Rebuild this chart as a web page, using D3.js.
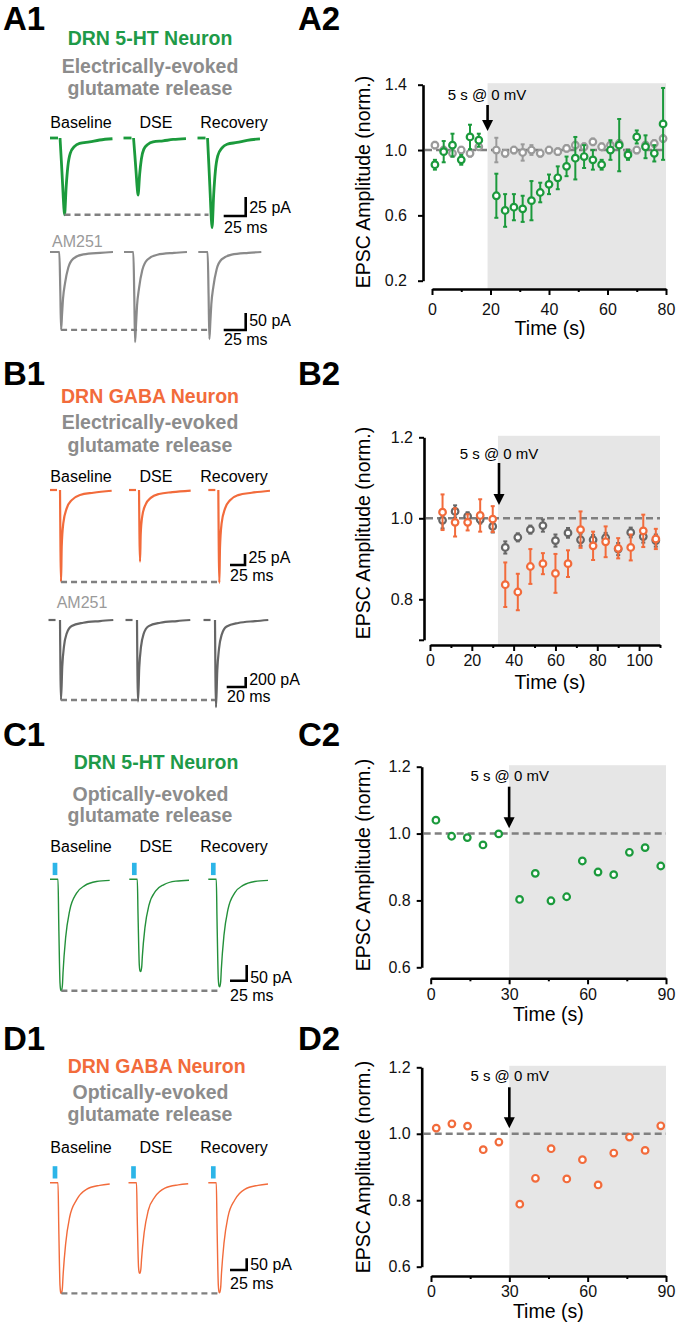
<!DOCTYPE html>
<html><head><meta charset="utf-8">
<script src="https://cdn.jsdelivr.net/npm/d3@7"></script>
<style>
body{margin:0;background:#fff;}
svg{display:block;font-family:"Liberation Sans",Arial,Helvetica,sans-serif;}
</style></head><body>
<svg id="fig" width="677" height="1327"></svg>
<script>
// ================= DATA =================
const phases = ["Baseline", "DSE", "Recovery"];

// EPSC peak amplitudes (pA, inward = negative) for Baseline / DSE / Recovery
const a1Amp   = [-101, -75, -118];
const a1AmAmp = [-229, -265, -256];
const b1Amp   = [-209, -163, -211];
const b1AmAmp = [-1600, -1630, -1745];
const c1Amp   = [-355, -294, -342];
const d1Amp   = [-473, -387, -470];

// EPSC waveform shapes: [ms after onset, fraction of peak]
const a1Shape   = [[0,0],[1.5,0.3],[3.0,0.62],[4.2,0.88],[5.1,1.0],[7.0,0.63],[8.9,0.37],[11.6,0.2],[16.5,0.11],[22.2,0.07],[33.6,0.05],[45,0.026],[59.6,0.01]];
const a1AmShape = [[0,0],[1.1,0.5],[2.0,1.0],[3.1,0.8],[4.2,0.6],[6.5,0.4],[10.2,0.2],[15.9,0.085],[27.3,0.03],[46.3,0.01],[61,0]];
const b1Shape   = [[0,0],[1.7,1.0],[2.8,0.62],[5.5,0.36],[11.1,0.2],[19.5,0.11],[33.3,0.055],[55.5,0.03],[86.1,0.008]];
const b1AmShape = [[0,0],[1.05,1.0],[2.4,0.58],[4.2,0.33],[7.0,0.17],[12.3,0.075],[24.5,0.034],[42.1,0.013],[56.1,0]];
const c1Shape   = [[0,0],[1.05,0.37],[2.1,0.72],[3.0,0.93],[4.2,0.995],[5.1,1.0],[6.6,0.95],[7.5,0.84],[11.5,0.52],[17.5,0.28],[27.6,0.126],[40,0.057],[57.6,0.02],[77.5,0.01]];
const d1Shape   = [[0,0],[1.05,0.37],[2.1,0.72],[3.0,0.93],[4.2,0.995],[5.1,1.0],[6.6,0.95],[7.5,0.85],[11.5,0.55],[17.5,0.31],[27.6,0.157],[42.6,0.06],[62.5,0.024],[77.5,0.012]];
const lightPulseMs = [4, 11];

// A2 — electrically evoked, 5-HT neurons (green) and AM251 (gray)
const a2Time     = [1,4,7,10,13,16,22,25,28,31,34,37,40,43,46,49,52,55,58,61,64,67,70,73,76,79];
const a2Green    = [0.91,0.99,1.03,0.94,1.08,1.06,0.72,0.63,0.65,0.64,0.69,0.74,0.79,0.83,0.90,0.95,0.96,0.94,0.91,1.00,1.03,0.97,1.08,1.02,0.98,1.16];
const a2GreenErr = [0.03,0.065,0.07,0.03,0.075,0.04,0.135,0.10,0.08,0.08,0.12,0.06,0.06,0.07,0.06,0.13,0.07,0.06,0.03,0.06,0.16,0.03,0.04,0.07,0.05,0.22];
const a2Gray     = [1.03,1.00,0.98,1.00,0.98,1.02,1.00,0.98,1.00,0.985,1.00,0.98,1.00,0.99,1.01,1.03,1.02,1.05,1.02,1.03,1.04,0.985,1.00,1.03,1.04,1.07];
const a2GrayErr  = [0.02,0.02,0.02,0.02,0.02,0.02,0.075,0.02,0.02,0.05,0.03,0.02,0.02,0.02,0.02,0.02,0.02,0.02,0.02,0.02,0.02,0.02,0.02,0.02,0.02,0.02];

// B2 — electrically evoked, GABA neurons (orange) and AM251 (dark gray)
const b2Time      = [6,12,18,24,30,36,42,48,54,60,66,72,78,84,90,96,102,108];
const b2Orange    = [1.015,0.99,0.99,1.007,0.998,0.836,0.818,0.881,0.888,0.864,0.888,0.972,0.932,0.942,0.926,0.928,0.969,0.949];
const b2OrangeErr = [0.044,0.035,0.02,0.04,0.032,0.055,0.045,0.043,0.026,0.048,0.033,0.045,0.035,0.038,0.025,0.032,0.04,0.025];
const b2Gray      = [0.995,1.017,1.005,0.997,0.98,0.928,0.953,0.972,0.982,0.945,0.964,0.947,0.947,0.952,0.924,0.965,0.955,0.945];
const b2GrayErr   = [0.02,0.015,0.01,0.01,0.015,0.015,0.01,0.01,0.015,0.015,0.012,0.015,0.012,0.012,0.015,0.012,0.015,0.015];

// C2 / D2 — optically evoked
const c2Time   = [2,8,14,20,26,34,40,46,52,58,64,70,76,82,88];
const c2Green  = [1.04,0.992,0.988,0.966,0.999,0.803,0.881,0.799,0.811,0.918,0.885,0.877,0.944,0.958,0.903];
const d2Time   = [2,8,14,20,26,34,40,46,52,58,64,70,76,82,88];
const d2Orange = [1.017,1.03,1.023,0.952,0.975,0.788,0.866,0.955,0.864,0.922,0.846,0.942,0.99,0.95,1.024];

// tick values
const a2XTicks = [0,20,40,60,80],   a2XMinor = [10,30,50,70],        a2YTicks = [0.2,0.6,1.0,1.4];
const b2XTicks = [0,20,40,60,80,100], b2XMinor = [10,30,50,70,90,110], b2YTicks = [0.7,0.8,1.0,1.2], b2YLabels = [0.8,1.0,1.2];
const cdXTicks = [0,30,60,90],      cdXMinor = [15,45,75],            cdYTicks = [0.6,0.8,1.0,1.2];

// ================= STYLE =================
const GREEN = "#1e9a48", GREEN_TR = "#1b9a3c", GREEN_THIN = "#23903a";
const ORANGE = "#f26b3b";
const GRAY_TXT = "#8c8c8c", GRAY_LIGHT = "#9a9a9a", GRAY_DARK = "#666666";
const DASH = "#808080", SHADE = "#e6e6e6", BLUE = "#2cb5e8";

const svg = d3.select("#fig");

function txt(x, y, s, o = {}) {
  return svg.append("text").attr("x", x).attr("y", y).text(s)
    .attr("font-size", o.size || 16).attr("font-weight", o.weight || "normal")
    .attr("fill", o.fill || "#000").attr("text-anchor", o.anchor || "start");
}

// ================= LEFT: TRACE PANELS =================
function tracePanel(o) {
  const g = svg.append("g");
  const xs = [], ys = [];
  o.amps.forEach((amp, i) => {
    const x = d3.scaleLinear().domain([0, 1]).range([o.starts[i], o.starts[i] + o.msPx]);
    const y = d3.scaleLinear().domain([0, -1]).range([o.baseY, o.baseY + o.paPx]);
    xs.push(x); ys.push(y);
    const line = d3.line().x(d => x(d[0])).y(d => y(d[1])).curve(d3.curveMonotoneX);
    const epsc = o.shape.map(([t, f]) => [o.onsetMs + t, f * amp]);
    let pts;
    if (o.preEnd != null) {
      g.append("path").attr("d", line([[0, 0], [o.preEnd, 0]]))
        .attr("fill", "none").attr("stroke", o.color).attr("stroke-width", o.width);
      pts = epsc;
    } else {
      pts = [[0, 0]].concat(epsc);
    }
    g.append("path").attr("d", line(pts)).attr("fill", "none")
      .attr("stroke", o.color).attr("stroke-width", o.width).attr("stroke-linejoin", "round");
    if (o.light) {
      g.append("rect").attr("x", x(lightPulseMs[0])).attr("width", x(lightPulseMs[1]) - x(lightPulseMs[0]))
        .attr("y", o.baseY - 16.5).attr("height", 12.3).attr("fill", BLUE);
    }
  });
  const peakMs = o.onsetMs + o.shape.find(d => d[1] === 1)[0];
  const dy = ys[0](o.amps[0]);
  g.append("line").attr("x1", xs[0](peakMs)).attr("x2", xs[2](o.onsetMs) + o.dashEnd)
    .attr("y1", dy).attr("y2", dy).attr("stroke", DASH).attr("stroke-width", 2.4)
    .attr("stroke-dasharray", "6,4");
  const sb = o.bar;
  const h = xs[0](sb.ms) - xs[0](0), v = ys[0](-sb.pA) - ys[0](0);
  g.append("path").attr("d", `M${sb.cx - h},${sb.cy}H${sb.cx}V${sb.cy - v}`)
    .attr("fill", "none").attr("stroke", "#000").attr("stroke-width", 2.6);
  txt(sb.cx + 3.5, sb.pAy, `${sb.pA} pA`);
  txt(sb.lx, sb.msy, `${sb.ms} ms`);
}

function header(o) {
  txt(3, o.labY, o.lab1, {size: 33, weight: "bold"});
  txt(298, o.labY, o.lab2, {size: 33, weight: "bold"});
  o.lines.forEach(l => txt(l[3], l[2], l[0], {size: 19.5, weight: "bold", fill: l[1], anchor: "middle"}));
  const px = [81, 156, 234];
  phases.forEach((p, i) => txt(px[i], o.phaseY, p, {anchor: "middle"}));
}

header({lab1: "A1", lab2: "A2", labY: 30, phaseY: 128,
  lines: [["DRN 5-HT Neuron", GREEN, 45, 150], ["Electrically-evoked", GRAY_TXT, 73, 150], ["glutamate release", GRAY_TXT, 95, 150]]});
tracePanel({amps: a1Amp, shape: a1Shape, starts: [50, 123.5, 197.5], baseY: 138, msPx: 0.88, paPx: 0.76,
  onsetMs: 11.4, preEnd: 9.1, color: GREEN_TR, width: 2.8, dashEnd: 1,
  bar: {pA: 25, ms: 25, cx: 245.7, cy: 216, pAy: 213, lx: 224, msy: 233}});
txt(52, 247, "AM251", {fill: GRAY_LIGHT});
tracePanel({amps: a1AmAmp, shape: a1AmShape, starts: [50, 124, 198.3], baseY: 252, msPx: 0.88, paPx: 0.34,
  onsetMs: 10.6, preEnd: null, color: "#8a8a8a", width: 2.2, dashEnd: 1.7,
  bar: {pA: 50, ms: 25, cx: 245.7, cy: 330, pAy: 326, lx: 224, msy: 345}});

header({lab1: "B1", lab2: "B2", labY: 385, phaseY: 481.7,
  lines: [["DRN GABA Neuron", ORANGE, 402.7, 150], ["Electrically-evoked", GRAY_TXT, 429.3, 150], ["glutamate release", GRAY_TXT, 451.7, 150]]});
tracePanel({amps: b1Amp, shape: b1Shape, starts: [50, 129, 208.3], baseY: 490, msPx: 0.6, paPx: 0.44,
  onsetMs: 16.7, preEnd: 11.7, color: ORANGE, width: 2.2, dashEnd: 1.7,
  bar: {pA: 25, ms: 25, cx: 245, cy: 565, pAy: 563, lx: 230, msy: 581}});
txt(56.7, 608, "AM251", {fill: GRAY_LIGHT});
tracePanel({amps: b1AmAmp, shape: b1AmShape, starts: [48.5, 125.5, 203.5], baseY: 620, msPx: 0.95, paPx: 0.05,
  onsetMs: 12.1, preEnd: 7.4, color: GRAY_DARK, width: 2.2, dashEnd: 0,
  bar: {pA: 200, ms: 20, cx: 245.7, cy: 687, pAy: 685, lx: 227, msy: 702}});

header({lab1: "C1", lab2: "C2", labY: 746, phaseY: 851.7,
  lines: [["DRN 5-HT Neuron", GREEN, 769.3, 156], ["Optically-evoked", GRAY_TXT, 801, 150.5], ["glutamate release", GRAY_TXT, 821.7, 150]]});
tracePanel({amps: c1Amp, shape: c1Shape, starts: [50, 129.3, 208.3], baseY: 879.3, msPx: 0.667, paPx: 0.314,
  onsetMs: 12, preEnd: null, color: GREEN_THIN, width: 1.4, dashEnd: 2, light: true,
  bar: {pA: 50, ms: 25, cx: 246.7, cy: 980.7, pAy: 983, lx: 230, msy: 1000.5}});

header({lab1: "D1", lab2: "D2", labY: 1050, phaseY: 1153.3,
  lines: [["DRN GABA Neuron", ORANGE, 1072.7, 156.7], ["Optically-evoked", GRAY_TXT, 1099.3, 150.5], ["glutamate release", GRAY_TXT, 1121, 150]]});
tracePanel({amps: d1Amp, shape: d1Shape, starts: [50, 128.5, 208.3], baseY: 1182.7, msPx: 0.667, paPx: 0.234,
  onsetMs: 12, preEnd: null, color: ORANGE, width: 1.4, dashEnd: 2, light: true,
  bar: {pA: 50, ms: 25, cx: 246.7, cy: 1270, pAy: 1270, lx: 230, msy: 1288.5}});

// ================= RIGHT: SCATTER PANELS =================
function scatterPanel(o) {
  const x = d3.scaleLinear().domain(o.xDomain).range(o.xRange);
  const y = d3.scaleLinear().domain(o.yDomain).range(o.yRange);
  const g = svg.append("g");
  const yTop = o.yRange[1];
  g.append("rect").attr("x", x(o.shadeFrom)).attr("y", yTop - 1.5)
    .attr("width", x(o.xDomain[1]) - x(o.shadeFrom)).attr("height", o.xAxisY - yTop + 1.5)
    .attr("fill", SHADE);
  g.append("line").attr("x1", o.yAxisX + 2).attr("x2", x(o.xDomain[1])).attr("y1", y(1)).attr("y2", y(1))
    .attr("stroke", DASH).attr("stroke-width", 2.6).attr("stroke-dasharray", "7,4");

  o.series.forEach(s => {
    const pts = s.t.map((t, i) => ({t, v: s.v[i], e: s.e ? s.e[i] : 0}));
    const eg = g.append("g").attr("stroke", s.color).attr("stroke-width", 2);
    pts.filter(d => d.e > 0).forEach(d => {
      const cx = x(d.t), y1 = y(d.v + d.e), y2 = y(d.v - d.e);
      eg.append("line").attr("x1", cx).attr("x2", cx).attr("y1", y1).attr("y2", y2);
      eg.append("line").attr("x1", cx - 2).attr("x2", cx + 2).attr("y1", y1).attr("y2", y1);
      eg.append("line").attr("x1", cx - 2).attr("x2", cx + 2).attr("y1", y2).attr("y2", y2);
    });
    g.append("g").selectAll("circle").data(pts).join("circle")
      .attr("cx", d => x(d.t)).attr("cy", d => y(d.v)).attr("r", 3.3)
      .attr("fill", "#fff").attr("stroke", s.color).attr("stroke-width", 2.2);
  });

  const labels = o.yLabels || o.yTicks;
  const ya = d3.axisLeft(y).tickValues(o.yTicks)
    .tickFormat(d => labels.includes(d) ? d.toFixed(1) : "")
    .tickSize(5).tickSizeOuter(0).tickPadding(o.yPad);
  const yg = g.append("g").attr("transform", `translate(${o.yAxisX},0)`).call(ya);
  const xMinor = d3.axisBottom(x).tickValues(o.xMinor).tickFormat("").tickSize(3).tickSizeOuter(0);
  const xMajor = d3.axisBottom(x).tickValues(o.xTicks).tickSize(6).tickSizeOuter(0).tickPadding(o.xPad);
  const xg1 = g.append("g").attr("transform", `translate(0,${o.xAxisY})`).call(xMinor);
  const xg2 = g.append("g").attr("transform", `translate(0,${o.xAxisY})`).call(xMajor);
  xg2.select(".domain").remove();
  [yg, xg1, xg2].forEach(a => {
    a.selectAll(".domain").attr("stroke", "#000").attr("stroke-width", 2.6);
    a.selectAll(".tick line").attr("stroke", "#000").attr("stroke-width", 2);
    a.selectAll(".tick text").attr("font-size", 16).attr("fill", "#111")
      .attr("font-family", '"Liberation Sans", Arial, sans-serif');
  });

  const ax = x(o.arrowT);
  g.append("line").attr("x1", ax).attr("x2", ax).attr("y1", o.arrowTop).attr("y2", o.arrowTip - 9)
    .attr("stroke", "#000").attr("stroke-width", 2.6);
  g.append("path").attr("d", `M${ax - 5.5},${o.arrowTip - 11}L${ax + 5.5},${o.arrowTip - 11}L${ax},${o.arrowTip}Z`)
    .attr("fill", "#000");
  txt(o.noteX, o.noteY, "5 s @ 0 mV", {size: 15, anchor: "middle"});

  svg.append("text").attr("transform", `translate(369.5,${o.yTitleY}) rotate(-90)`)
    .attr("text-anchor", "middle").attr("font-size", 19.5).text("EPSC Amplitude (norm.)");
  txt(o.xTitleX, o.xTitleY, "Time (s)", {size: 19.5, anchor: "middle"});
}

scatterPanel({
  xDomain: [0, 80], xRange: [432, 666], yDomain: [0.2, 1.4], yRange: [280.7, 84.7],
  xAxisY: 289, yAxisX: 423, xTicks: a2XTicks, xMinor: a2XMinor, yTicks: a2YTicks,
  xPad: 9, yPad: 11, shadeFrom: 19, arrowT: 19, arrowTop: 105, arrowTip: 131,
  noteX: 487, noteY: 99.5, yTitleY: 182, xTitleX: 550, xTitleY: 335,
  series: [{t: a2Time, v: a2Gray, e: a2GrayErr, color: GRAY_LIGHT},
           {t: a2Time, v: a2Green, e: a2GreenErr, color: GREEN_TR}]
});
scatterPanel({
  xDomain: [0, 110], xRange: [430, 660], yDomain: [0.7, 1.2], yRange: [639.8, 437.3],
  xAxisY: 645, yAxisX: 424, xTicks: b2XTicks, xMinor: b2XMinor, yTicks: b2YTicks, yLabels: b2YLabels,
  xPad: 4, yPad: 6, shadeFrom: 32.5, arrowT: 33, arrowTop: 463, arrowTip: 505,
  noteX: 499, noteY: 458.5, yTitleY: 533, xTitleX: 550, xTitleY: 688.5,
  series: [{t: b2Time, v: b2Gray, e: b2GrayErr, color: GRAY_DARK},
           {t: b2Time, v: b2Orange, e: b2OrangeErr, color: ORANGE}]
});
scatterPanel({
  xDomain: [0, 90], xRange: [430.7, 666], yDomain: [0.6, 1.2], yRange: [967.3, 766.7],
  xAxisY: 978.3, yAxisX: 421.7, xTicks: cdXTicks, xMinor: cdXMinor, yTicks: cdYTicks,
  xPad: 4, yPad: 6, shadeFrom: 30, arrowT: 30, arrowTop: 786.7, arrowTip: 828.3,
  noteX: 509.7, noteY: 780.7, yTitleY: 865, xTitleX: 548.3, xTitleY: 1020.5,
  series: [{t: c2Time, v: c2Green, color: GREEN_TR}]
});
scatterPanel({
  xDomain: [0, 90], xRange: [431, 666], yDomain: [0.6, 1.2], yRange: [1266.7, 1067.3],
  xAxisY: 1276, yAxisX: 421.7, xTicks: cdXTicks, xMinor: cdXMinor, yTicks: cdYTicks,
  xPad: 4, yPad: 6, shadeFrom: 30, arrowT: 30, arrowTop: 1087.3, arrowTip: 1128.3,
  noteX: 509.7, noteY: 1080.7, yTitleY: 1167, xTitleX: 548.3, xTitleY: 1318,
  series: [{t: d2Time, v: d2Orange, color: ORANGE}]
});
</script>
</body></html>
